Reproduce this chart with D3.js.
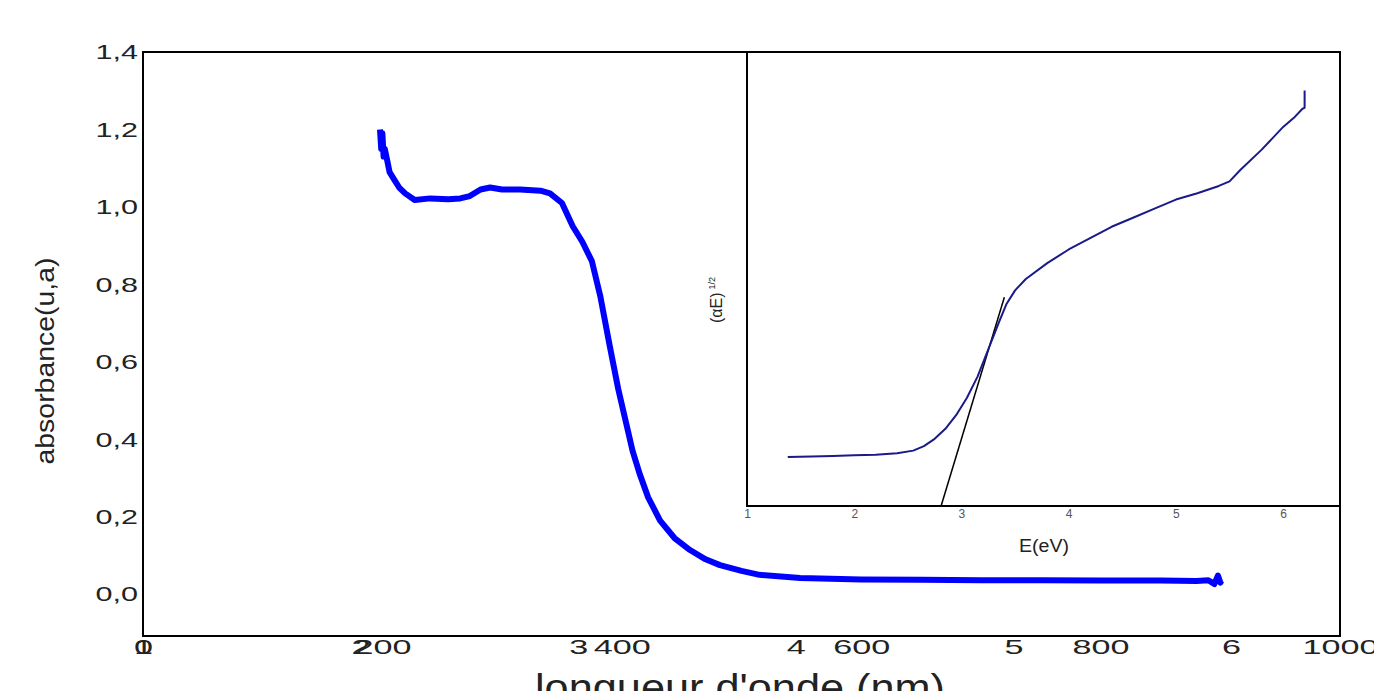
<!DOCTYPE html>
<html>
<head>
<meta charset="utf-8">
<script src="https://cdn.jsdelivr.net/npm/d3@7"></script>
<style>
  body { margin: 0; background: #fff; }
  text { font-family: "Liberation Sans", Arial, sans-serif; }
</style>
</head>
<body>
<script>
// absorbance spectrum (main plot)
var wavelength = [198, 199, 200, 201, 202, 204, 206, 210, 214, 219, 227, 240, 255, 265, 273, 282, 290, 300, 315, 332,
  340, 350, 359, 367, 375, 382, 390, 397, 403, 409, 415, 422, 432, 444, 457, 470, 482, 500, 515, 549,
  600, 650, 700, 750, 800, 850, 880, 890, 895, 898, 900, 901];
var absorbance = [1.20, 1.15, 1.19, 1.13, 1.15, 1.12, 1.09, 1.07, 1.05, 1.035, 1.018, 1.022, 1.02, 1.022, 1.028, 1.045, 1.05, 1.045, 1.045, 1.042,
  1.035, 1.01, 0.95, 0.91, 0.86, 0.77, 0.64, 0.53, 0.45, 0.37, 0.31, 0.25, 0.19, 0.145, 0.114, 0.09, 0.075, 0.06, 0.05, 0.042,
  0.038, 0.037, 0.036, 0.036, 0.035, 0.035, 0.034, 0.036, 0.026, 0.048, 0.03, 0.035];
// tauc plot (inset)
var energy = [1.38, 1.6, 1.8, 2.0, 2.2, 2.4, 2.55, 2.65, 2.75, 2.85, 2.95, 3.05, 3.15, 3.25, 3.35, 3.42, 3.5, 3.6, 3.8, 4.0,
  4.2, 4.4, 4.6, 4.8, 5.0, 5.2, 5.4, 5.5, 5.6, 5.8, 6.0, 6.1, 6.18, 6.2, 6.2];
var tauc = [10.8, 10.9, 11.0, 11.2, 11.3, 11.6, 12.2, 13.2, 14.8, 17.0, 20.0, 23.8, 28.5, 34.5, 40.5, 44.5, 47.5, 50.0, 53.5, 56.5,
  59.0, 61.5, 63.5, 65.5, 67.5, 68.9, 70.5, 71.5, 74.0, 78.5, 83.5, 85.5, 87.5, 87.7, 91.5];
var tangentE = [2.81, 3.40];
var tangentV = [0, 46];
// tick labels
var xTicks = [0, 200, 400, 600, 800, 1000];
var xTicks2 = [1, 2, 3, 4, 5, 6];
var yTicks = [0, 0.2, 0.4, 0.6, 0.8, 1.0, 1.2, 1.4];
var insetTicks = [1, 2, 3, 4, 5, 6];

var width = 1374, height = 691;
var svg = d3.select("body").append("svg")
  .attr("width", width)
  .attr("height", height);

// scales
var x = d3.scaleLinear().domain([0, 1000]).range([143, 1340]);
var x2 = d3.scaleLinear().domain([1, 6]).range([143, 1231]);
var y = d3.scaleLinear().domain([-0.108, 1.4]).range([636, 52]);
var xi = d3.scaleLinear().domain([1, 6.53]).range([747, 1340]);
var yi = d3.scaleLinear().domain([0, 100]).range([506, 52]);

// the original picture is stretched sideways, so labels get a wider box
function stretch(sel, perChar) {
  sel.each(function() {
    var t = d3.select(this);
    var s = t.text();
    var w = 0;
    for (var i = 0; i < s.length; i++) w += (s[i] === "," ? 0.5 : 1) * perChar;
    t.attr("textLength", w).attr("lengthAdjust", "spacingAndGlyphs");
  });
}

// main frame
svg.append("rect")
  .attr("x", 143).attr("y", 52)
  .attr("width", 1340 - 143).attr("height", 636 - 52)
  .attr("fill", "none").attr("stroke", "#000").attr("stroke-width", 2);

// main axes
var fmtComma = function(d) { return d3.format(".1f")(d).replace(".", ","); };
var gy = svg.append("g").attr("transform", "translate(143,0)")
  .call(d3.axisLeft(y).tickValues(yTicks).tickSize(0).tickPadding(5).tickFormat(fmtComma));
var gx = svg.append("g").attr("transform", "translate(0,636)")
  .call(d3.axisBottom(x).tickValues(xTicks).tickSize(0).tickPadding(3).tickFormat(d3.format("d")));
var gx2 = svg.append("g").attr("transform", "translate(0,636)")
  .call(d3.axisBottom(x2).tickValues(xTicks2).tickSize(0).tickPadding(3).tickFormat(d3.format("d")));
[gy, gx, gx2].forEach(function(g) {
  g.select(".domain").remove();
  g.selectAll("text").attr("font-size", 21).attr("fill", "#222")
    .attr("font-family", "Liberation Sans, Arial, sans-serif");
});
stretch(gx.selectAll("text"), 19);
stretch(gx2.selectAll("text"), 19);
stretch(gy.selectAll("text"), 17);

// axis titles
svg.append("text")
  .attr("transform", "translate(54,361) rotate(-90)")
  .attr("text-anchor", "middle")
  .attr("font-size", 26)
  .attr("textLength", 207).attr("lengthAdjust", "spacingAndGlyphs")
  .attr("fill", "#222")
  .text("absorbance(u,a)");
svg.append("text")
  .attr("x", 740).attr("y", 701)
  .attr("text-anchor", "middle")
  .attr("font-size", 38)
  .attr("textLength", 410).attr("lengthAdjust", "spacingAndGlyphs")
  .attr("fill", "#222")
  .text("longueur d'onde (nm)");

// main curve
var line = d3.line()
  .x(function(d, i) { return x(wavelength[i]); })
  .y(function(d, i) { return y(absorbance[i]); });
svg.append("path")
  .datum(wavelength)
  .attr("d", line)
  .attr("fill", "none")
  .attr("stroke", "#0000ff")
  .attr("stroke-width", 6)
  .attr("stroke-linejoin", "round");

// inset frame
svg.append("rect")
  .attr("x", 747).attr("y", 52)
  .attr("width", 1340 - 747).attr("height", 506 - 52)
  .attr("fill", "#fff").attr("stroke", "#000").attr("stroke-width", 2);

var gi = svg.append("g").attr("transform", "translate(0,506)")
  .call(d3.axisBottom(xi).tickValues(insetTicks).tickSize(0).tickPadding(3).tickFormat(d3.format("d")));
gi.select(".domain").remove();
gi.selectAll("text").attr("font-size", 12).attr("fill", "#555");

svg.append("text")
  .attr("x", 1044).attr("y", 552)
  .attr("text-anchor", "middle")
  .attr("font-size", 18)
  .attr("textLength", 50).attr("lengthAdjust", "spacingAndGlyphs")
  .attr("fill", "#222")
  .text("E(eV)");
var yl = svg.append("text")
  .attr("transform", "translate(722,300) rotate(-90)")
  .attr("text-anchor", "middle")
  .attr("font-size", 16)
  .attr("fill", "#222");
yl.append("tspan").text("(αE)");
yl.append("tspan").attr("font-size", 9).attr("dy", -7).attr("dx", 3).text("1/2");

// tangent line
svg.append("line")
  .attr("x1", xi(tangentE[0])).attr("y1", yi(tangentV[0]))
  .attr("x2", xi(tangentE[1])).attr("y2", yi(tangentV[1]))
  .attr("stroke", "#000").attr("stroke-width", 1.5);

// inset curve
var lineI = d3.line()
  .x(function(d, i) { return xi(energy[i]); })
  .y(function(d, i) { return yi(tauc[i]); });
svg.append("path")
  .datum(energy)
  .attr("d", lineI)
  .attr("fill", "none")
  .attr("stroke", "#1a1a8a")
  .attr("stroke-width", 2)
  .attr("stroke-linejoin", "round");
</script>
</body>
</html>
